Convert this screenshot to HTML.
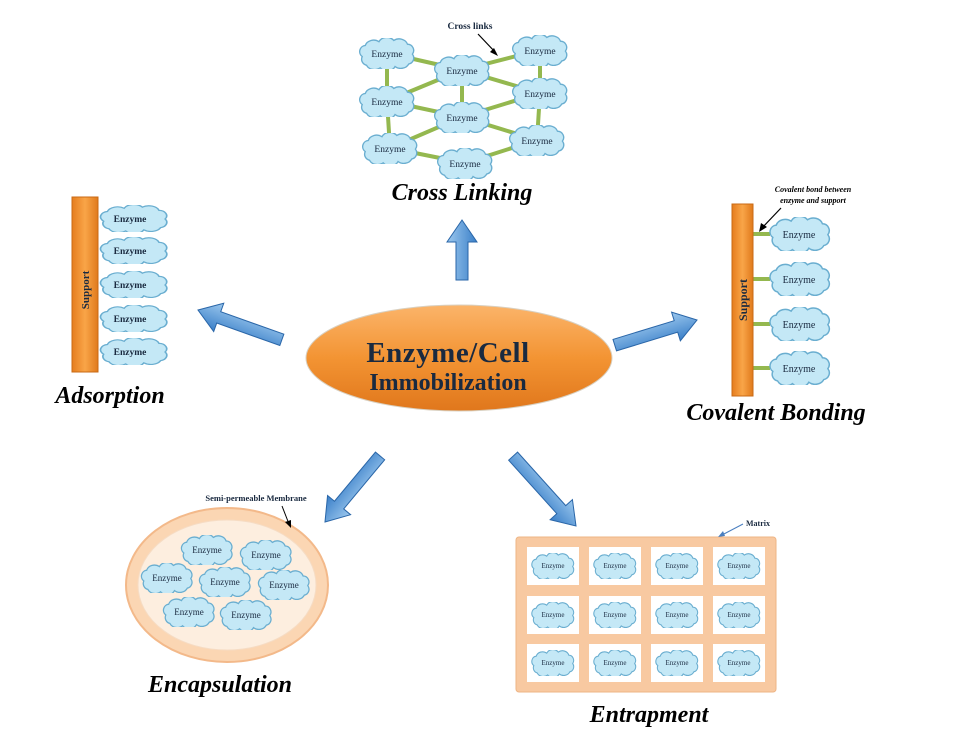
<!DOCTYPE html>
<html><head><meta charset="utf-8"><style>
html,body{margin:0;padding:0;background:#fff;}
svg{display:block;}
</style></head><body>
<svg width="958" height="733" viewBox="0 0 958 733" xmlns="http://www.w3.org/2000/svg">
<defs>
<symbol id="cl" viewBox="0 0 100 50" preserveAspectRatio="none">
<path d="M10,30 a10,10 0 0 1 5,-18 a14,12 0 0 1 22,-6 a14,12 0 0 1 24,-2 a14,12 0 0 1 22,6 a10,10 0 0 1 8,16 a10,10 0 0 1 -6,16 a14,12 0 0 1 -22,4 a14,12 0 0 1 -24,2 a14,12 0 0 1 -22,-4 a10,10 0 0 1 -7,-14 z" fill="#c4e8f6" stroke="#6aaed0" stroke-width="2.2"/>
</symbol>
<linearGradient id="og" x1="0" y1="0" x2="0" y2="1"><stop offset="0" stop-color="#fbb46a"/><stop offset="0.5" stop-color="#f39433"/><stop offset="1" stop-color="#e0771c"/></linearGradient>
<linearGradient id="bar" x1="0" y1="0" x2="1" y2="0"><stop offset="0" stop-color="#e57d1e"/><stop offset="0.5" stop-color="#f9a548"/><stop offset="1" stop-color="#e07a1c"/></linearGradient>
<linearGradient id="bg" x1="0" y1="0" x2="0" y2="1"><stop offset="0" stop-color="#9cc8ee"/><stop offset="1" stop-color="#3a7fc8"/></linearGradient>
</defs>
<style>
.t{font-family:"Liberation Serif",serif;font-weight:bold;fill:#1a2a40;}
.h{font-family:"Liberation Serif",serif;font-weight:bold;font-style:italic;font-size:24px;fill:#000;}
.lk{stroke:#94b84f;stroke-width:4;}
.ar{fill:url(#bg);stroke:#2a66a8;stroke-width:1;}
</style>

<!-- Cross linking -->
<g class="lk">
<line x1="387" y1="53" x2="387" y2="101"/><line x1="387" y1="101" x2="390" y2="148"/>
<line x1="540" y1="50" x2="540" y2="93"/><line x1="540" y1="93" x2="537" y2="140"/>
<line x1="387" y1="53" x2="462" y2="70"/><line x1="462" y1="70" x2="540" y2="50"/>
<line x1="387" y1="101" x2="462" y2="70"/><line x1="462" y1="70" x2="540" y2="93"/>
<line x1="387" y1="101" x2="462" y2="117"/><line x1="462" y1="117" x2="540" y2="93"/>
<line x1="390" y1="148" x2="462" y2="117"/><line x1="462" y1="117" x2="537" y2="140"/>
<line x1="390" y1="148" x2="465" y2="163"/><line x1="465" y1="163" x2="537" y2="140"/>
<line x1="462" y1="70" x2="462" y2="117"/>
</g>
<g font-family="Liberation Serif,serif" font-size="9.5" text-anchor="middle" fill="#1a2a40">
<use href="#cl" x="356" y="38" width="62" height="31"/><text x="387" y="57">Enzyme</text>
<use href="#cl" x="431" y="55" width="62" height="31"/><text x="462" y="74">Enzyme</text>
<use href="#cl" x="509" y="35" width="62" height="31"/><text x="540" y="54">Enzyme</text>
<use href="#cl" x="356" y="86" width="62" height="31"/><text x="387" y="105">Enzyme</text>
<use href="#cl" x="509" y="78" width="62" height="31"/><text x="540" y="97">Enzyme</text>
<use href="#cl" x="431" y="102" width="62" height="31"/><text x="462" y="121">Enzyme</text>
<use href="#cl" x="359" y="133" width="62" height="31"/><text x="390" y="152">Enzyme</text>
<use href="#cl" x="506" y="125" width="62" height="31"/><text x="537" y="144">Enzyme</text>
<use href="#cl" x="434" y="148" width="62" height="31"/><text x="465" y="167">Enzyme</text>
</g>
<text x="470" y="29" class="t" font-size="9.5" text-anchor="middle" fill="#000">Cross links</text>
<line x1="478" y1="34" x2="496" y2="53" stroke="#000" stroke-width="1.2"/>
<polygon points="498,56 490,52 494,48" fill="#000"/>
<text x="462" y="200" class="h" text-anchor="middle">Cross Linking</text>

<!-- Central -->
<ellipse cx="459" cy="358" rx="153" ry="53" fill="url(#og)" stroke="#d9d0c0" stroke-width="1"/>
<text x="448" y="362" class="t" font-size="29" text-anchor="middle" fill="#111" letter-spacing="0.5">Enzyme/Cell</text>
<text x="448" y="390" class="t" font-size="24" text-anchor="middle" fill="#111">Immobilization</text>

<!-- arrows -->
<g transform="translate(462,220) rotate(-90)"><polygon class="ar" points="0,0 -22,-15 -22,-6 -60,-6 -60,6 -22,6 -22,15"/></g>
<g transform="translate(198,310) rotate(19.6)"><polygon class="ar" points="0,0 22,-15 22,-6 89,-6 89,6 22,6 22,15"/></g>
<g transform="translate(697,320) rotate(-17)"><polygon class="ar" points="0,0 -22,-15 -22,-6 -86,-6 -86,6 -22,6 -22,15"/></g>
<g transform="translate(325,522) rotate(129.8)"><polygon class="ar" points="0,0 -22,-15 -22,-6 -86,-6 -86,6 -22,6 -22,15"/></g>
<g transform="translate(576,526) rotate(48)"><polygon class="ar" points="0,0 -22,-15 -22,-6 -94,-6 -94,6 -22,6 -22,15"/></g>

<!-- Adsorption -->
<rect x="72" y="197" width="26" height="175" fill="url(#bar)" stroke="#c96a14"/>
<text transform="translate(89,290) rotate(-90)" class="t" font-size="11" text-anchor="middle" fill="#222">Support</text>
<g font-family="Liberation Serif,serif" font-weight="bold" font-size="9.5" text-anchor="middle" fill="#1a2a40">
<use href="#cl" x="96" y="205" width="76" height="27"/><text x="130" y="222">Enzyme</text>
<use href="#cl" x="96" y="237" width="76" height="27"/><text x="130" y="254">Enzyme</text>
<use href="#cl" x="96" y="271" width="76" height="27"/><text x="130" y="288">Enzyme</text>
<use href="#cl" x="96" y="305" width="76" height="27"/><text x="130" y="322">Enzyme</text>
<use href="#cl" x="96" y="338" width="76" height="27"/><text x="130" y="355">Enzyme</text>
</g>
<text x="110" y="403" class="h" text-anchor="middle">Adsorption</text>

<!-- Covalent -->
<g class="lk"><line x1="753" y1="234" x2="770" y2="234"/><line x1="753" y1="279" x2="770" y2="279"/><line x1="753" y1="324" x2="770" y2="324"/><line x1="753" y1="368" x2="770" y2="368"/></g>
<rect x="732" y="204" width="21" height="192" fill="url(#bar)" stroke="#c96a14"/>
<text transform="translate(747,300) rotate(-90)" class="t" font-size="12" text-anchor="middle" fill="#222">Support</text>
<g font-family="Liberation Serif,serif" font-size="10" text-anchor="middle" fill="#1a2a40">
<use href="#cl" x="766" y="217" width="68" height="34"/><text x="799" y="238">Enzyme</text>
<use href="#cl" x="766" y="262" width="68" height="34"/><text x="799" y="283">Enzyme</text>
<use href="#cl" x="766" y="307" width="68" height="34"/><text x="799" y="328">Enzyme</text>
<use href="#cl" x="766" y="351" width="68" height="34"/><text x="799" y="372">Enzyme</text>
</g>
<text x="813" y="192" font-family="Liberation Serif,serif" font-weight="bold" font-style="italic" font-size="8" text-anchor="middle">Covalent bond between</text>
<text x="813" y="203" font-family="Liberation Serif,serif" font-weight="bold" font-style="italic" font-size="8" text-anchor="middle">enzyme and support</text>
<line x1="781" y1="208" x2="762" y2="228" stroke="#000" stroke-width="1.2"/>
<polygon points="759,232 761,223 767,227" fill="#000"/>
<text x="776" y="420" class="h" text-anchor="middle">Covalent Bonding</text>

<!-- Encapsulation -->
<ellipse cx="227" cy="585" rx="101" ry="77" fill="#fbd6b3" stroke="#f3b98a" stroke-width="2"/>
<ellipse cx="227" cy="585" rx="89" ry="65" fill="#fdeedf" stroke="#f6dcc4"/>
<g font-family="Liberation Serif,serif" font-size="9" text-anchor="middle" fill="#1a2a40">
<use href="#cl" x="178" y="535" width="58" height="30"/><text x="207" y="553">Enzyme</text>
<use href="#cl" x="237" y="540" width="58" height="30"/><text x="266" y="558">Enzyme</text>
<use href="#cl" x="138" y="563" width="58" height="30"/><text x="167" y="581">Enzyme</text>
<use href="#cl" x="196" y="567" width="58" height="30"/><text x="225" y="585">Enzyme</text>
<use href="#cl" x="255" y="570" width="58" height="30"/><text x="284" y="588">Enzyme</text>
<use href="#cl" x="160" y="597" width="58" height="30"/><text x="189" y="615">Enzyme</text>
<use href="#cl" x="217" y="600" width="58" height="30"/><text x="246" y="618">Enzyme</text>
</g>
<text x="256" y="501" class="t" font-size="8.5" text-anchor="middle" fill="#000">Semi-permeable Membrane</text>
<line x1="282" y1="506" x2="289" y2="524" stroke="#000" stroke-width="1"/>
<polygon points="291,528 285,522 291,520" fill="#000"/>
<text x="220" y="692" class="h" text-anchor="middle">Encapsulation</text>

<!-- Entrapment -->
<rect x="516" y="537" width="260" height="155" rx="3" fill="#f8c9a1" stroke="#eeb585"/>
<g fill="#fff">
<rect x="527" y="547" width="52" height="38"/><rect x="589" y="547" width="52" height="38"/><rect x="651" y="547" width="52" height="38"/><rect x="713" y="547" width="52" height="38"/>
<rect x="527" y="596" width="52" height="38"/><rect x="589" y="596" width="52" height="38"/><rect x="651" y="596" width="52" height="38"/><rect x="713" y="596" width="52" height="38"/>
<rect x="527" y="644" width="52" height="38"/><rect x="589" y="644" width="52" height="38"/><rect x="651" y="644" width="52" height="38"/><rect x="713" y="644" width="52" height="38"/>
</g>
<g font-family="Liberation Serif,serif" font-size="7" text-anchor="middle" fill="#1a2a40">
<use href="#cl" x="529" y="553" width="48" height="26"/><text x="553" y="568">Enzyme</text>
<use href="#cl" x="591" y="553" width="48" height="26"/><text x="615" y="568">Enzyme</text>
<use href="#cl" x="653" y="553" width="48" height="26"/><text x="677" y="568">Enzyme</text>
<use href="#cl" x="715" y="553" width="48" height="26"/><text x="739" y="568">Enzyme</text>
<use href="#cl" x="529" y="602" width="48" height="26"/><text x="553" y="617">Enzyme</text>
<use href="#cl" x="591" y="602" width="48" height="26"/><text x="615" y="617">Enzyme</text>
<use href="#cl" x="653" y="602" width="48" height="26"/><text x="677" y="617">Enzyme</text>
<use href="#cl" x="715" y="602" width="48" height="26"/><text x="739" y="617">Enzyme</text>
<use href="#cl" x="529" y="650" width="48" height="26"/><text x="553" y="665">Enzyme</text>
<use href="#cl" x="591" y="650" width="48" height="26"/><text x="615" y="665">Enzyme</text>
<use href="#cl" x="653" y="650" width="48" height="26"/><text x="677" y="665">Enzyme</text>
<use href="#cl" x="715" y="650" width="48" height="26"/><text x="739" y="665">Enzyme</text>
</g>
<text x="758" y="526" class="t" font-size="8" text-anchor="middle" fill="#000">Matrix</text>
<line x1="743" y1="524" x2="722" y2="535" stroke="#4a7fc0" stroke-width="1"/>
<polygon points="718,537 723,531 725,536" fill="#4a7fc0"/>
<text x="649" y="722" class="h" text-anchor="middle">Entrapment</text>
</svg>
</body></html>
